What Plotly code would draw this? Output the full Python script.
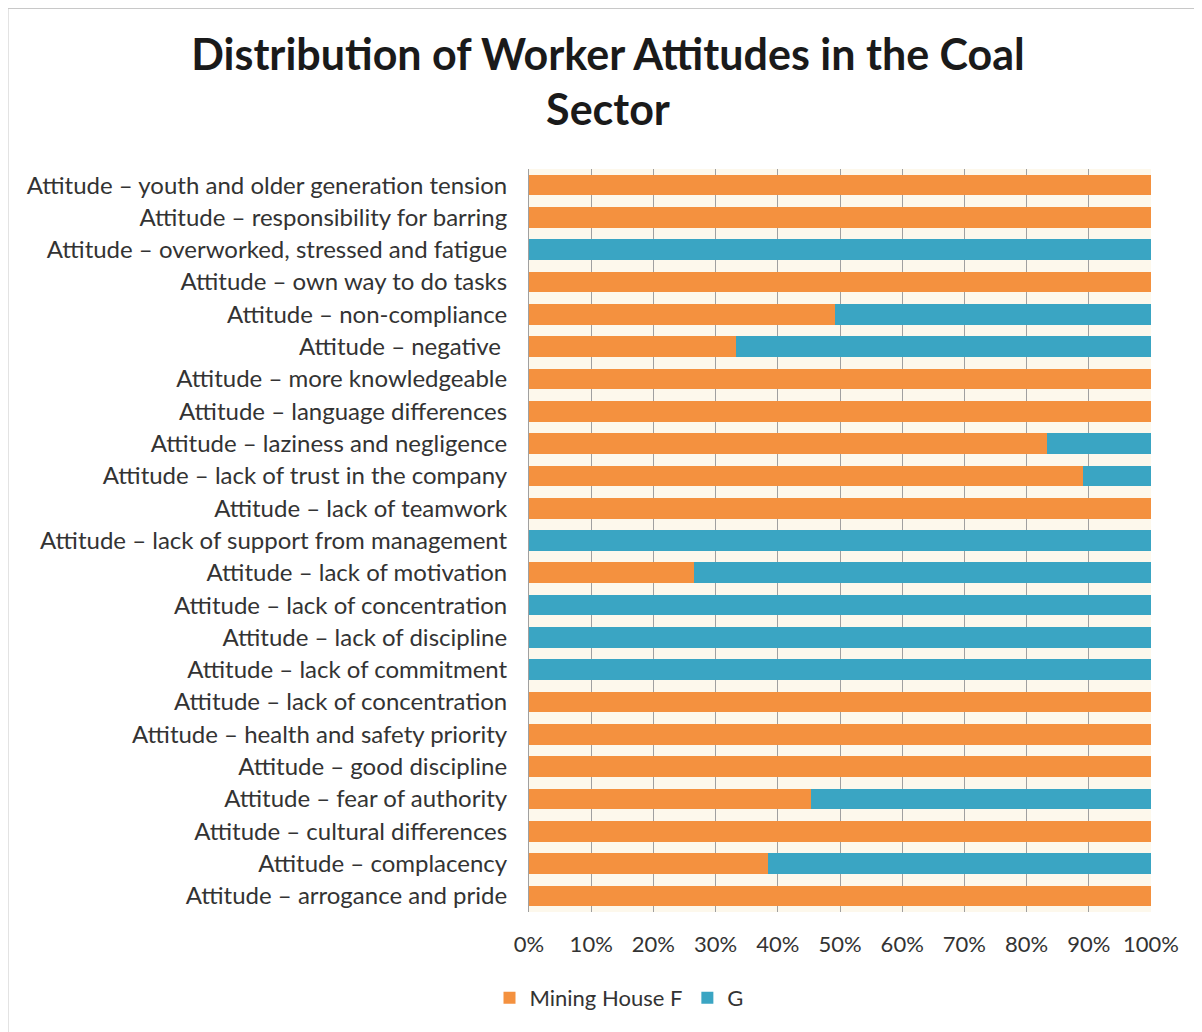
import plotly.graph_objects as go

categories = [
    "Attitude – youth and older generation tension",
    "Attitude – responsibility for barring",
    "Attitude – overworked, stressed and fatigue",
    "Attitude – own way to do tasks",
    "Attitude – non-compliance",
    "Attitude – negative ",
    "Attitude – more knowledgeable",
    "Attitude – language differences",
    "Attitude – laziness and negligence",
    "Attitude – lack of trust in the company",
    "Attitude – lack of teamwork",
    "Attitude – lack of support from management",
    "Attitude – lack of motivation",
    "Attitude – lack of concentration",
    "Attitude – lack of discipline",
    "Attitude – lack of commitment",
    "Attitude – lack of concentration",
    "Attitude – health and safety priority",
    "Attitude – good discipline",
    "Attitude – fear of authority",
    "Attitude – cultural differences",
    "Attitude – complacency",
    "Attitude – arrogance and pride",
]
mining_house_f = [100, 100, 0, 100, 49.2, 33.3, 100, 100, 83.3, 89, 100, 0, 26.5, 0, 0, 0,
                  100, 100, 100, 45.3, 100, 38.4, 100]
g = [100 - v for v in mining_house_f]
x_ticks = [0, 10, 20, 30, 40, 50, 60, 70, 80, 90, 100]
x_tick_labels = [f"{t}%" for t in x_ticks]

positions = list(range(len(categories)))

FONT = "Lato"
W, H = 1194, 1024
L, R, T, B = 521, 51, 161, 120
PW, PH = W - L - R, H - T - B

fig = go.Figure()
fig.add_trace(go.Bar(y=positions, x=mining_house_f, orientation="h", name="Mining House F",
                     marker=dict(color="#F4913F", line=dict(width=0))))
fig.add_trace(go.Bar(y=positions, x=g, orientation="h", name="G",
                     marker=dict(color="#3AA5C3", line=dict(width=0))))

fig.update_layout(
    width=W, height=H,
    barmode="stack", bargap=0.36,
    paper_bgcolor="white", plot_bgcolor="#FDF8EC",
    margin=dict(l=L, r=R, t=T, b=B),
    title=dict(text="<b>Distribution of Worker Attitudes in the Coal<br>Sector</b>",
               x=600 / W, xanchor="center", y=1 - 61.5 / H, yanchor="middle",
               font=dict(family=FONT, size=43, color="#1a1a1a")),
    font=dict(family=FONT, size=24, color="#333333"),
    xaxis=dict(range=[0, 100], tickvals=x_ticks, ticktext=x_tick_labels,
               showgrid=True, gridcolor="#a0a0a0", gridwidth=1, zeroline=False,
               ticks="outside", ticklen=13, tickcolor="rgba(0,0,0,0)",
               tickfont=dict(size=22, color="#333333"), fixedrange=True),
    yaxis=dict(tickvals=positions, ticktext=categories, autorange="reversed",
               showgrid=False, zeroline=False, showline=True, linecolor="#a0a0a0",
               ticks="outside", ticklen=16, tickcolor="rgba(0,0,0,0)",
               tickfont=dict(size=24, color="#333333")),
    legend=dict(orientation="h", x=(611 - L) / PW, xanchor="center",
                y=(H - B - 990) / PH, yanchor="middle",
                font=dict(size=22, color="#333333"), traceorder="normal"),
    shapes=[dict(type="rect", xref="paper", yref="paper",
                 x0=(0 - L) / PW, x1=(1189 - L) / PW,
                 y0=(H - B - 1030) / PH, y1=(H - B - 0.5) / PH,
                 line=dict(color="#c8c8c8", width=1), layer="below")],
)
fig.write_html("out.html")
